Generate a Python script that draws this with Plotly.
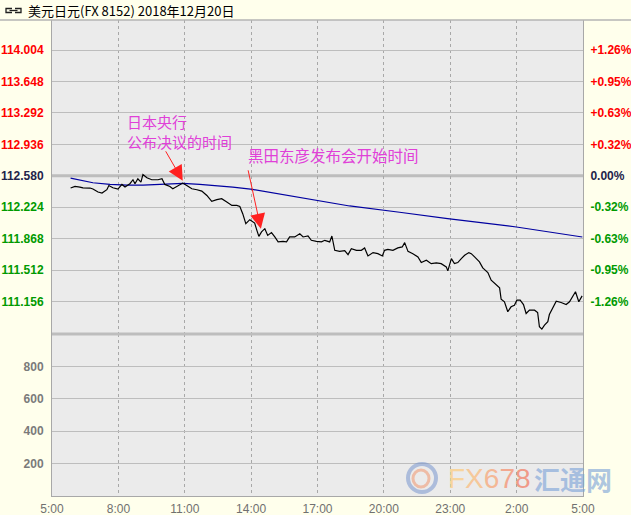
import plotly.graph_objects as go

# ---------------- data ----------------
times = [0.84, 1.04, 1.26, 1.40, 1.72, 1.85, 2.08, 2.26, 2.48, 2.57, 2.75, 2.98, 3.16, 3.30, 3.52,
         3.66, 3.75, 3.88, 4.02, 4.11, 4.29, 4.51, 4.79, 4.97, 5.10, 5.33, 5.46, 5.69, 5.91, 6.09,
         6.32, 6.55, 6.77, 7.00, 7.22, 7.45, 7.67, 7.90, 8.13, 8.35, 8.49, 8.62, 8.76, 8.94, 9.16,
         9.26, 9.35, 9.47, 9.62, 9.75, 9.92, 10.07, 10.22, 10.44, 10.60, 10.74, 10.97, 11.20, 11.35,
         11.57, 11.72, 11.95, 12.18, 12.33, 12.55, 12.65, 12.78, 13.00, 13.23, 13.38, 13.53, 13.76,
         13.98, 14.13, 14.28, 14.51, 14.73, 14.93, 15.03, 15.18, 15.41, 15.63, 15.83, 15.94, 16.09,
         16.31, 16.54, 16.69, 16.92, 17.14, 17.37, 17.59, 17.82, 17.89, 18.05, 18.19, 18.34, 18.50,
         18.65, 18.84, 18.95, 19.10, 19.32, 19.47, 19.70, 19.85, 20.00, 20.23, 20.30, 20.45, 20.60,
         20.75, 20.90, 21.01, 21.16, 21.31, 21.43, 21.58, 21.81, 21.95, 22.03, 22.14, 22.26, 22.41,
         22.48, 22.63, 22.79, 23.01, 23.24, 23.39, 23.54, 23.66, 23.81, 23.96]
prices = [112.441, 112.459, 112.452, 112.444, 112.441, 112.430, 112.396, 112.384, 112.422, 112.470,
          112.444, 112.430, 112.482, 112.452, 112.490, 112.535, 112.490, 112.546, 112.509, 112.595,
          112.557, 112.535, 112.535, 112.546, 112.482, 112.459, 112.433, 112.470, 112.497, 112.470,
          112.433, 112.422, 112.407, 112.357, 112.290, 112.309, 112.320, 112.283, 112.244, 112.244,
          112.233, 112.151, 112.038, 112.083, 112.045, 111.962, 111.894, 111.944, 111.981, 111.905,
          111.936, 111.887, 111.831, 111.837, 111.831, 111.887, 111.887, 111.924, 111.887, 111.898,
          111.849, 111.837, 111.831, 111.849, 111.831, 111.898, 111.736, 111.724, 111.732, 111.687,
          111.755, 111.736, 111.736, 111.763, 111.672, 111.710, 111.698, 111.672, 111.736, 111.747,
          111.736, 111.763, 111.774, 111.823, 111.724, 111.698, 111.661, 111.597, 111.623, 111.585,
          111.593, 111.585, 111.548, 111.503, 111.642, 111.585, 111.597, 111.642, 111.679, 111.710,
          111.698, 111.661, 111.605, 111.537, 111.484, 111.397, 111.359, 111.311, 111.182, 111.153,
          111.040, 111.096, 111.114, 111.171, 111.171, 111.122, 111.020, 111.058, 111.058, 111.032,
          110.870, 110.843, 110.888, 110.927, 111.009, 111.077, 111.159, 111.145, 111.122, 111.153,
          111.209, 111.266, 111.153, 111.220]

ma_times = [0.84, 1.85, 2.62, 3.39, 4.11, 4.88, 5.91, 6.68, 7.45, 8.17, 9.07, 11.20, 13.45,
            15.71, 17.88, 20.99, 23.97]
ma_prices = [112.554, 112.501, 112.482, 112.473, 112.475, 112.482, 112.495, 112.482, 112.467,
             112.452, 112.425, 112.331, 112.238, 112.167, 112.094, 112.000, 111.887]

prev_close = 112.580
price_ticks = [114.004, 113.648, 113.292, 112.936, 112.580, 112.224, 111.868, 111.512, 111.156]
price_labels = ["114.004", "113.648", "113.292", "112.936", "112.580", "112.224", "111.868", "111.512", "111.156"]
pct_labels = ["+1.26%", "+0.95%", "+0.63%", "+0.32%", "0.00%", "-0.32%", "-0.63%", "-0.95%", "-1.26%"]
vol_ticks = [200, 400, 600, 800]
vol_labels = ["200", "400", "600", "800"]
x_tickvals = [0, 3, 6, 9, 12, 15, 18, 21, 24]
x_ticktext = ["5:00", "8:00", "11:00", "14:00", "17:00", "20:00", "23:00", "2:00", "5:00"]

title_text = "美元日元(FX 8152) 2018年12月20日"
note1 = "日本央行<br>公布决议的时间"
note2 = "黑田东彦发布会开始时间"

# ---------------- style ----------------
W, H = 631, 515
ML, MR, MT, MB = 52, 48, 20, 19
PW, PH = W - ML - MR, H - MT - MB
SPLIT = 0.3403
RED, GREEN, DARK = "#ff0000", "#009a00", "#23234a"
GRID = "#bdbdbd"
BORDER = "#a8a8a8"
NOTE = "#e040d8"


def px_x(px):
    return (px - ML) / PW


def px_y(py):
    return (H - MB - py) / PH


def tick_color(v):
    if v > prev_close + 1e-9:
        return RED
    if v < prev_close - 1e-9:
        return GREEN
    return DARK


left_text = [f'<span style="color:{tick_color(v)}">{t}</span>' for v, t in zip(price_ticks, price_labels)]
right_text = [f'<span style="color:{tick_color(v)}">{t}</span>' for v, t in zip(price_ticks, pct_labels)]

fig = go.Figure()
fig.add_trace(go.Scatter(x=ma_times, y=ma_prices, mode="lines", xaxis="x2", yaxis="y",
                         line=dict(color="#0000a0", width=1.2), hoverinfo="skip", showlegend=False))
fig.add_trace(go.Scatter(x=times, y=prices, mode="lines", xaxis="x2", yaxis="y",
                         line=dict(color="#000000", width=1.2), showlegend=False))
fig.add_trace(go.Scatter(x=times, y=prices, mode="none", xaxis="x2", yaxis="y2",
                         hoverinfo="skip", showlegend=False))
fig.add_trace(go.Scatter(x=[], y=[], mode="lines", xaxis="x", yaxis="y3",
                         hoverinfo="skip", showlegend=False))

yr = [110.788, 114.344]
axis_font = dict(family="Liberation Sans, Arial", size=12, weight="bold")

fig.update_layout(
    width=W, height=H, autosize=False,
    margin=dict(l=ML, r=MR, t=MT, b=MB, pad=0, autoexpand=False),
    paper_bgcolor="#ffffec", plot_bgcolor="#ebebeb",
    showlegend=False,
    xaxis=dict(domain=[0, 1], anchor="y3", range=[0, 24], tickvals=x_tickvals, ticktext=x_ticktext,
               showgrid=True, gridcolor=BORDER, griddash="dot", gridwidth=1, zeroline=False,
               showline=True, linecolor=BORDER, linewidth=1, ticks="", automargin=False,
               tickfont=dict(family="Liberation Sans, Arial", size=12, color="#707070"),
               ticklabelstandoff=2, fixedrange=True),
    xaxis2=dict(domain=[0, 1], anchor="y", matches="x", range=[0, 24], tickvals=x_tickvals,
                showticklabels=False, showgrid=True, gridcolor=BORDER, griddash="dot", automargin=False,
                gridwidth=1, zeroline=False, showline=False, ticks="", fixedrange=True),
    yaxis=dict(domain=[SPLIT, 1], anchor="x2", range=yr, tickvals=price_ticks, ticktext=left_text,
               showgrid=True, gridcolor=GRID, gridwidth=1, zeroline=False, showline=True,
               automargin=False,
               linecolor=BORDER, ticks="", tickfont=axis_font, ticklabelstandoff=5, fixedrange=True),
    yaxis2=dict(overlaying="y", side="right", anchor="x2", range=yr, tickvals=price_ticks,
                ticktext=right_text, showgrid=False, zeroline=False, showline=True, automargin=False,
                linecolor=BORDER, ticks="", tickfont=axis_font, ticklabelstandoff=4, fixedrange=True),
    yaxis3=dict(domain=[0, SPLIT], anchor="x", range=[0, 1000], tickvals=vol_ticks, ticktext=vol_labels,
                showgrid=True, gridcolor=GRID, gridwidth=1, zeroline=False, showline=True, mirror=True,
                linecolor=BORDER, ticks="", automargin=False,
                tickfont=dict(family="Liberation Sans, Arial", size=12, weight="bold", color="#7a7a7a"),
                ticklabelstandoff=5, fixedrange=True),
)

shapes = [
    # previous-close baseline
    dict(type="line", xref="paper", yref="y", x0=0, x1=1, y0=prev_close, y1=prev_close,
         line=dict(color="#bdbdbd", width=3), layer="below"),
    # panel separator
    dict(type="line", xref="paper", yref="paper", x0=0, x1=1, y0=SPLIT, y1=SPLIT,
         line=dict(color="#bdbdbd", width=3), layer="above"),
    # header rule
    dict(type="line", xref="paper", yref="paper", x0=px_x(0), x1=px_x(W), y0=1, y1=1,
         line=dict(color="#b4b4b4", width=1.5), layer="above"),
]
# link icon in header
icon_paths = [
    [(12, 8.5), (6, 8.5), (6, 12.5), (12, 12.5)],
    [(15, 8.5), (21, 8.5), (21, 12.5), (15, 12.5)],
    [(9.5, 10.5), (17.5, 10.5)],
]
for pts in icon_paths:
    d = "M " + " L ".join(f"{px_x(a):.5f},{px_y(b):.5f}" for a, b in pts)
    shapes.append(dict(type="path", xref="paper", yref="paper", path=d,
                       line=dict(color="#202020", width=1.3), layer="above"))
# watermark swirl
shapes.append(dict(type="circle", xref="paper", yref="paper", x0=px_x(408), x1=px_x(436),
                   y0=px_y(492), y1=px_y(464), line=dict(color="rgba(120,150,205,0.55)", width=4),
                   layer="above"))
shapes.append(dict(type="circle", xref="paper", yref="paper", x0=px_x(413), x1=px_x(429),
                   y0=px_y(487), y1=px_y(470), line=dict(color="rgba(240,150,110,0.55)", width=3),
                   layer="above"))
fig.update_layout(shapes=shapes)

cjk = "Noto Sans CJK SC"
annotations = [
    dict(xref="paper", yref="paper", x=px_x(26), y=px_y(10), xanchor="left", yanchor="middle",
         text=title_text, showarrow=False, font=dict(family=cjk, size=13, color="#000000")),
    # arrows
    dict(xref="x2", yref="y", x=5.91, y=112.523, axref="x2", ayref="y", ax=5.10, ay=112.874,
         text="", showarrow=True, arrowhead=2, arrowsize=3, arrowwidth=1, arrowcolor="#ff2020"),
    dict(xref="x2", yref="y", x=9.44, y=111.981, axref="x2", ayref="y", ax=8.85, ay=112.659,
         text="", showarrow=True, arrowhead=2, arrowsize=3, arrowwidth=1, arrowcolor="#ff2020"),
    # notes
    dict(xref="x2", yref="y", x=3.30, y=113.078, xanchor="left", yanchor="middle", text=note1,
         align="left", showarrow=False, font=dict(family=cjk, size=15, color=NOTE)),
    dict(xref="x2", yref="y", x=8.76, y=112.817, xanchor="left", yanchor="middle", text=note2,
         showarrow=False, font=dict(family=cjk, size=15.5, color=NOTE)),
    # watermark
    dict(xref="paper", yref="paper", x=px_x(489), y=px_y(478), xanchor="center", yanchor="middle",
         text=('<span style="color:#f7d49c">F</span><span style="color:#f6c89a">X</span>'
               '<span style="color:#f4b896">6</span><span style="color:#f2a890">7</span>'
               '<span style="color:#f09a88">8</span>'),
         showarrow=False,
         font=dict(family="Liberation Sans", size=28)),
    dict(xref="paper", yref="paper", x=px_x(573), y=px_y(478), xanchor="center", yanchor="middle",
         text="汇通网", showarrow=False,
         font=dict(family=cjk, size=26, weight="bold", color="rgba(120,160,215,0.6)")),
]
fig.update_layout(annotations=annotations)

fig.write_html("out.html", config={"displayModeBar": False},
               post_script="document.body.style.margin='0';document.body.style.padding='0';")
